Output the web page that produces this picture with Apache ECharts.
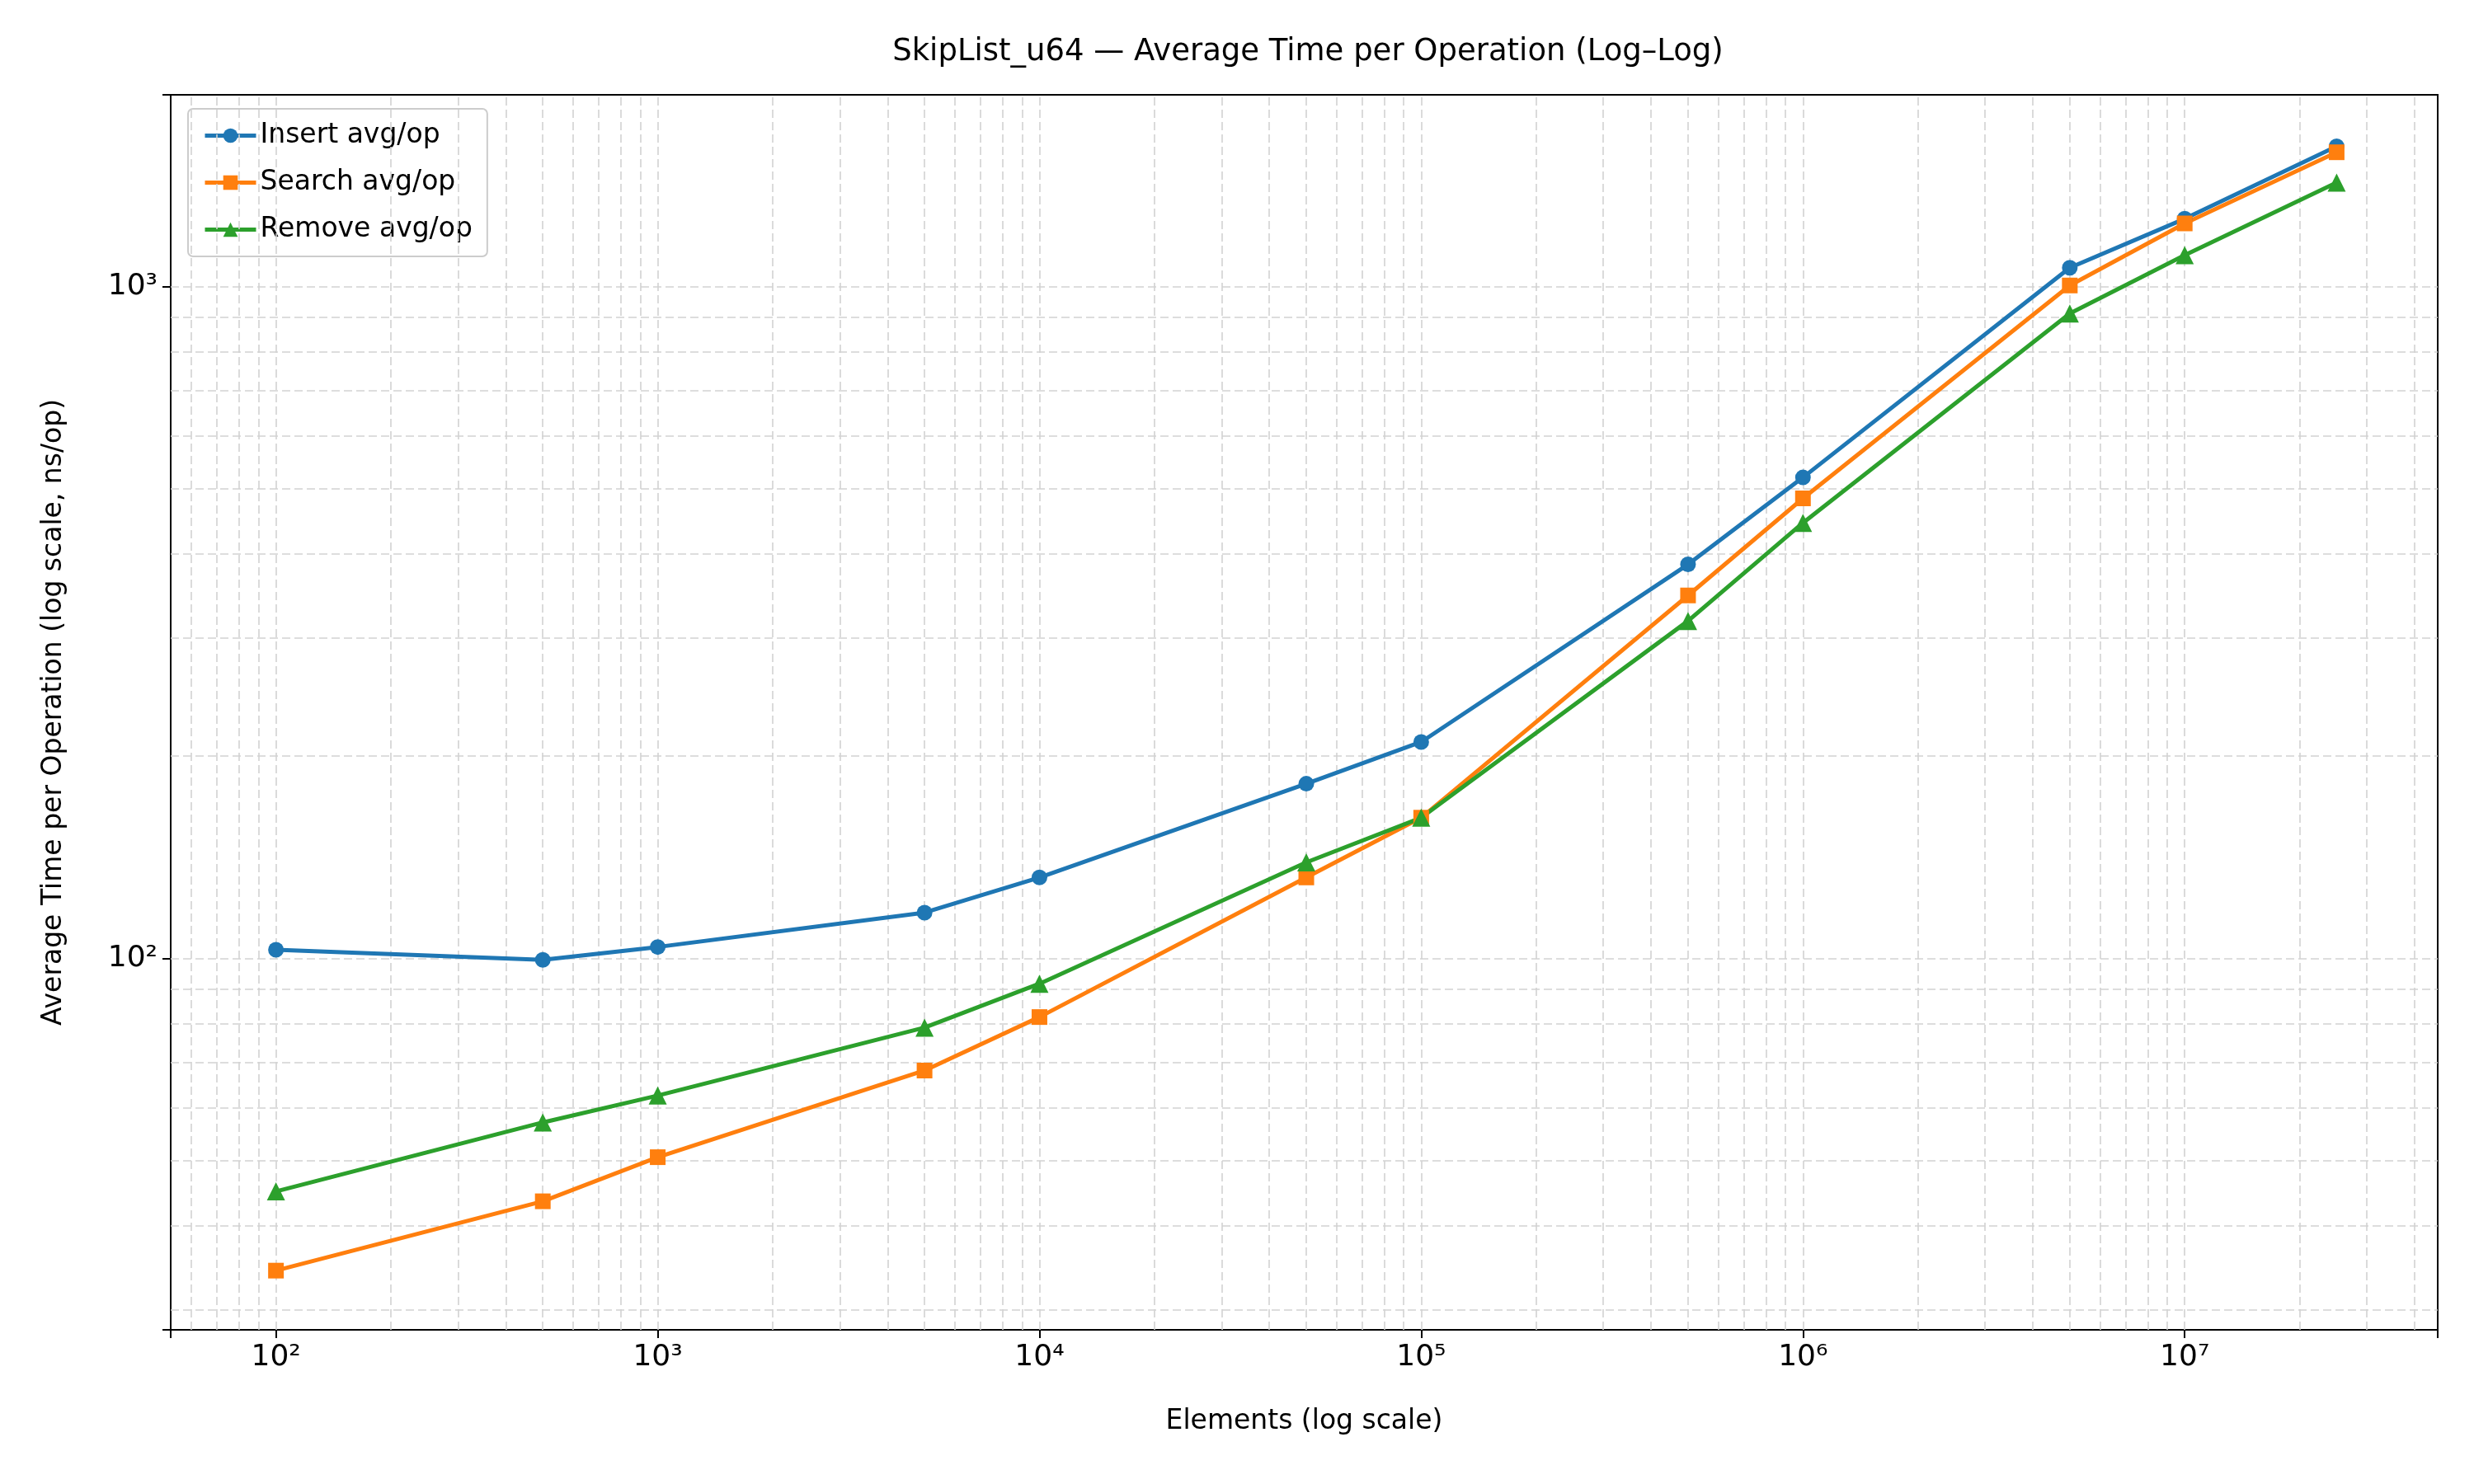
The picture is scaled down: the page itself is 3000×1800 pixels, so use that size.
<!DOCTYPE html>
<html><head><meta charset="utf-8">
<script src="https://cdn.jsdelivr.net/npm/echarts@6/dist/echarts.min.js"></script>
<style>html,body{margin:0;padding:0;background:#fff}#c{width:3000px;height:1800px}</style>
</head><body><div id="c"></div>
<script>
const elements = [100, 500, 1000, 5000, 10000, 50000, 100000, 500000, 1000000, 5000000, 10000000, 25000000];
const insertAvg = [103, 99.5, 104, 117, 132, 182, 210, 386, 520, 1067, 1262, 1618];
const searchAvg = [34.3, 43.5, 50.6, 68.1, 81.8, 132, 162, 347, 484, 1004, 1242, 1585];
const removeAvg = [45, 57, 62.5, 78.9, 91.7, 139, 162, 318, 445, 912, 1114, 1428];
const xMinor = [];
for (let e = 1; e <= 7; e++) for (let m = 1; m <= 9; m++) xMinor.push(m * Math.pow(10, e));
const yMinor = [];
for (let e = 1; e <= 3; e++) for (let m = 1; m <= 9; m++) yMinor.push(m * Math.pow(10, e));

const sup = {0:'⁰',1:'¹',2:'²',3:'³',4:'⁴',5:'⁵',6:'⁶',7:'⁷',8:'⁸',9:'⁹'};
const fmt = v => { const e = Math.round(Math.log10(v)); return Math.abs(Math.log10(v) - e) < 1e-6 ? '10' + String(e).split('').map(d => sup[d]).join('') : ''; };
const font = 'DejaVu Sans';
const mk = (name, data, color, symbol) => ({
  name, type: 'line', data: elements.map((x, i) => [x, data[i]]),
  symbol, symbolSize: symbol === 'triangle' ? 22 : 19,
  lineStyle: {width: 5, color}, itemStyle: {color}, z: 5
});
const chart = echarts.init(document.getElementById('c'));
chart.setOption({
  animation: false,
  textStyle: {fontFamily: font},
  title: {text: 'SkipList_u64 — Average Time per Operation (Log–Log)', left: 1581, top: 40, textAlign: 'center',
    textStyle: {fontFamily: font, fontSize: 37, fontWeight: 'normal', color: '#000'}},
  grid: {left: 207, right: 44, top: 115, bottom: 187, show: true, borderColor: '#000', borderWidth: 2},
  legend: {orient: 'vertical', left: 228, top: 132, itemWidth: 62, itemHeight: 22, itemGap: 24,
    padding: [16, 18], borderColor: '#ccc', borderWidth: 2, borderRadius: 6, backgroundColor: '#fff',
    lineStyle: {width: 5}, textStyle: {fontSize: 33, color: '#000'}},
  xAxis: {type: 'log', logBase: 10, min: 53, max: 46000000,
    name: 'Elements (log scale)', nameLocation: 'middle', nameGap: 95, nameTextStyle: {fontSize: 33, color: '#000'},
    axisLine: {lineStyle: {color: '#000', width: 2}}, axisTick: {length: 10, lineStyle: {color: '#000', width: 2}},
    axisLabel: {formatter: fmt, fontSize: 36, color: '#000', margin: 16},
    splitLine: {show: false}},
  yAxis: {type: 'log', logBase: 10, min: 28, max: 1930,
    name: 'Average Time per Operation (log scale, ns/op)', nameLocation: 'middle', nameGap: 125, nameTextStyle: {fontSize: 33, color: '#000'},
    axisLine: {lineStyle: {color: '#000', width: 2}}, axisTick: {length: 10, lineStyle: {color: '#000', width: 2}},
    axisLabel: {formatter: fmt, fontSize: 36, color: '#000', margin: 16},
    splitLine: {show: false}},
  series: [
    {type: 'line', data: [], silent: true, markLine: {silent: true, symbol: 'none', label: {show: false},
      lineStyle: {color: '#d2d2d2', type: [10, 5], width: 1.6},
      data: xMinor.map(v => ({xAxis: v})).concat(yMinor.filter(v => v >= 28 && v <= 1930).map(v => ({yAxis: v})))}},
    mk('Insert avg/op', insertAvg, '#1f77b4', 'circle'),
    mk('Search avg/op', searchAvg, '#ff7f0e', 'rect'),
    mk('Remove avg/op', removeAvg, '#2ca02c', 'triangle')
  ]
});
</script></body></html>
